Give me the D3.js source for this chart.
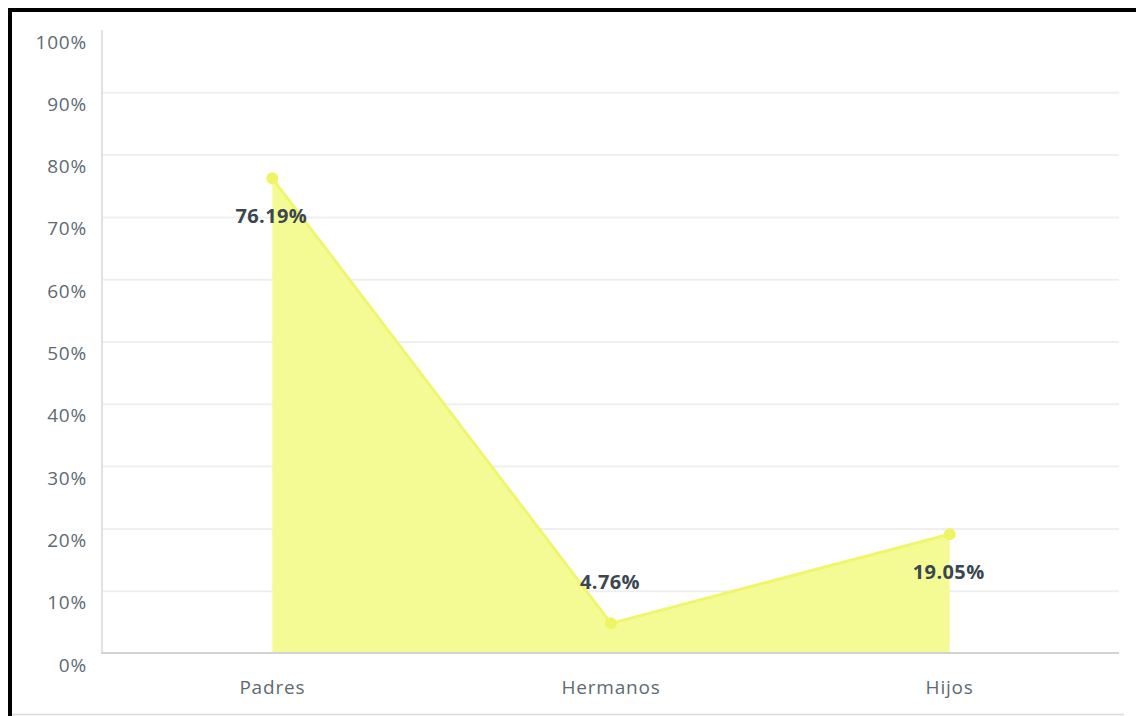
<!DOCTYPE html>
<html><head><meta charset="utf-8">
<script src="https://cdn.jsdelivr.net/npm/d3@7"></script>
<style>html,body{margin:0;padding:0;background:#fff;}svg{display:block;}</style>
</head><body>
<svg id="c" width="1136" height="716"></svg>
<script>
const categories = ["Padres", "Hermanos", "Hijos"];
const values = [76.19, 4.76, 19.05];
const valueLabels = ["76.19%", "4.76%", "19.05%"];
const yTicks = [0, 10, 20, 30, 40, 50, 60, 70, 80, 90, 100];

(function () {
const svg = d3.select("#c");
const W = 1136, H = 716;
const pL = 103, pR = 1119, pT = 30, pB = 653;

// frame
svg.append("line").attr("x1", 8).attr("x2", W).attr("y1", 10).attr("y2", 10).attr("stroke", "#000").attr("stroke-width", 4);
svg.append("line").attr("x1", 10).attr("x2", 10).attr("y1", 8).attr("y2", H).attr("stroke", "#000").attr("stroke-width", 4);
svg.append("line").attr("x1", 12).attr("x2", 1124).attr("y1", 714.5).attr("y2", 714.5).attr("stroke", "#dcdcdc").attr("stroke-width", 1.5);

const x = d3.scaleBand().domain(categories).range([pL, pR]);
const y = d3.scaleLinear().domain([0, 100]).range([pB, pT]);

// gridlines
const yAxis = d3.axisLeft(y).tickValues(yTicks).tickSize(-(pR - pL)).tickFormat(d => d + "%");
const gy = svg.append("g").attr("transform", `translate(${pL},0)`).call(yAxis);
gy.select(".domain").remove();
gy.selectAll(".tick line").attr("stroke", "#efefef").attr("stroke-width", 2)
  .filter(d => d === 0 || d === 100).remove();
gy.selectAll(".tick text")
  .attr("x", -16).attr("dy", "0.32em").attr("y", 12)
  .attr("fill", "#5e6a72")
  .style("font-family", "'Open Sans', sans-serif").style("font-size", "19px")
  .style("letter-spacing", "0.8px");

// y axis line
svg.append("line").attr("x1", pL - 1).attr("x2", pL - 1).attr("y1", pT).attr("y2", pB)
  .attr("stroke", "#e2e2e2").attr("stroke-width", 2);

const cx = d => x(d) + x.bandwidth() / 2;
const pts = categories.map((c, i) => ({c, v: values[i], l: valueLabels[i], i}));

// area
const area = d3.area().x(d => cx(d.c)).y0(y(0)).y1(d => y(d.v));
svg.append("path").datum(pts).attr("d", area).attr("fill", "#f5fb94");
const line = d3.line().x(d => cx(d.c)).y(d => y(d.v));
svg.append("path").datum(pts).attr("d", line).attr("fill", "none").attr("stroke", "#f0f66c").attr("stroke-width", 3);

// baseline
svg.append("line").attr("x1", pL - 2).attr("x2", pR).attr("y1", pB).attr("y2", pB)
  .attr("stroke", "#d3d3d3").attr("stroke-width", 2);

// dots
svg.selectAll("circle.pt").data(pts).join("circle").attr("class", "pt")
  .attr("cx", d => cx(d.c)).attr("cy", d => y(d.v)).attr("r", 6).attr("fill", "#eef564");

// value labels: below unless a local minimum
const isMin = (d) => {
  const prev = values[d.i - 1], next = values[d.i + 1];
  return (prev === undefined || d.v < prev) && (next === undefined || d.v < next);
};
svg.selectAll("text.vl").data(pts).join("text").attr("class", "vl")
  .attr("x", d => cx(d.c) - 1)
  .attr("y", d => isMin(d) ? y(d.v) - 41 : y(d.v) + 38)
  .attr("dy", "0.35em").attr("text-anchor", "middle")
  .attr("fill", "#3a4650")
  .style("font-family", "'Open Sans', sans-serif").style("font-size", "20px").style("font-weight", "700")
  .style("letter-spacing", "0.4px")
  .text(d => d.l);

// x labels
const xAxis = d3.axisBottom(x).tickSize(0).tickPadding(0);
const gx = svg.append("g").attr("transform", `translate(0,${pB})`).call(xAxis);
gx.select(".domain").remove();
gx.selectAll(".tick text").attr("y", 35).attr("dy", "0.32em")
  .attr("fill", "#5e6a72")
  .style("font-family", "'Open Sans', sans-serif").style("font-size", "19px")
  .style("letter-spacing", "0.8px");
})();
</script>
</body></html>
